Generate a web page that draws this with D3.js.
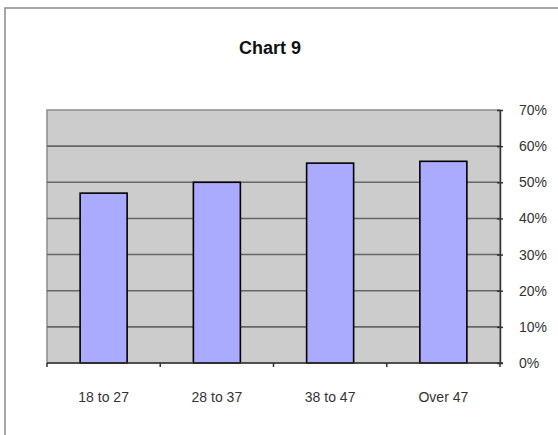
<!DOCTYPE html>
<html>
<head>
<meta charset="utf-8">
<script src="https://cdn.jsdelivr.net/npm/d3@7"></script>
<style>
    body { margin: 0; background: #fff; }
    text { font-family: "Liberation Sans", Arial, sans-serif; }
</style>
</head>
<body>
<div id="chart"></div>
<script>
// Chart data
const categories = ["18 to 27", "28 to 37", "38 to 47", "Over 47"];
const values = [0.47, 0.50, 0.553, 0.558];
const yTicks = [0, 0.1, 0.2, 0.3, 0.4, 0.5, 0.6, 0.7];
const chartTitle = "Chart 9";

// Dimensions
const width = 558, height = 435;
const margin = { top: 110, right: 58, bottom: 72, left: 47 };
const innerW = width - margin.left - margin.right;
const innerH = height - margin.top - margin.bottom;

const svg = d3.select("#chart").append("svg")
    .attr("width", width)
    .attr("height", height);

// Outer frame (only top and left edges visible)
svg.append("path")
    .attr("d", `M5,${height} L5,8 L${width},8`)
    .attr("fill", "none")
    .attr("stroke", "#8a8a8a")
    .attr("stroke-width", 1.5);

// Title
svg.append("text")
    .attr("x", 270)
    .attr("y", 54)
    .attr("text-anchor", "middle")
    .attr("font-size", "18px")
    .attr("font-weight", "bold")
    .attr("fill", "#111")
    .text(chartTitle);

const g = svg.append("g")
    .attr("transform", `translate(${margin.left},${margin.top})`);

// Scales
const x = d3.scaleBand()
    .domain(categories)
    .range([0, innerW])
    .paddingInner(0.585)
    .paddingOuter(0.2925);

const y = d3.scaleLinear()
    .domain([0, 0.7])
    .range([innerH, 0]);

// Plot background
g.append("rect")
    .attr("width", innerW)
    .attr("height", innerH)
    .attr("fill", "#cccccc")
    .attr("stroke", "#8c8c8c")
    .attr("stroke-width", 1.5);

// Gridlines
g.selectAll(".grid")
    .data(yTicks.filter(d => d > 0 && d < 0.7))
    .enter()
    .append("line")
    .attr("class", "grid")
    .attr("x1", 0)
    .attr("x2", innerW)
    .attr("y1", d => y(d))
    .attr("y2", d => y(d))
    .attr("stroke", "#666")
    .attr("stroke-width", 1.6);

// Bars
g.selectAll(".bar")
    .data(values)
    .enter()
    .append("rect")
    .attr("class", "bar")
    .attr("x", (d, i) => x(categories[i]))
    .attr("y", d => y(d))
    .attr("width", x.bandwidth())
    .attr("height", d => innerH - y(d))
    .attr("fill", "#aaaaff")
    .attr("stroke", "#000")
    .attr("stroke-width", 1.6);

// Right y axis
const yAxis = d3.axisRight(y)
    .tickValues(yTicks)
    .tickFormat(d3.format(".0%"))
    .tickSizeInner(3)
    .tickSizeOuter(0)
    .tickPadding(16);

const yAxisGroup = g.append("g")
    .attr("transform", `translate(${innerW},0)`)
    .call(yAxis);

yAxisGroup.select(".domain").attr("stroke", "#333").attr("stroke-width", 1.5);
yAxisGroup.selectAll(".tick line")
    .attr("x1", -3)
    .attr("x2", 3)
    .attr("stroke", "#333")
    .attr("stroke-width", 1.5);
yAxisGroup.selectAll(".tick text")
    .attr("font-size", "14px")
    .attr("fill", "#333")
    .attr("font-family", "Liberation Sans, Arial, sans-serif");

// Bottom x axis: ticks at category boundaries
const xAxisGroup = g.append("g")
    .attr("transform", `translate(0,${innerH})`);

xAxisGroup.append("line")
    .attr("x1", 0)
    .attr("x2", innerW + 3)
    .attr("stroke", "#333")
    .attr("stroke-width", 1.5);

const step = x.step();
xAxisGroup.selectAll(".xtick")
    .data(d3.range(categories.length + 1))
    .enter()
    .append("line")
    .attr("class", "xtick")
    .attr("x1", i => i * step)
    .attr("x2", i => i * step)
    .attr("y1", 0)
    .attr("y2", 4)
    .attr("stroke", "#333")
    .attr("stroke-width", 1.5);

xAxisGroup.selectAll(".xlabel")
    .data(categories)
    .enter()
    .append("text")
    .attr("class", "xlabel")
    .attr("x", d => x(d) + x.bandwidth() / 2)
    .attr("y", 39)
    .attr("text-anchor", "middle")
    .attr("font-size", "14px")
    .attr("fill", "#333")
    .text(d => d);
</script>
</body>
</html>
